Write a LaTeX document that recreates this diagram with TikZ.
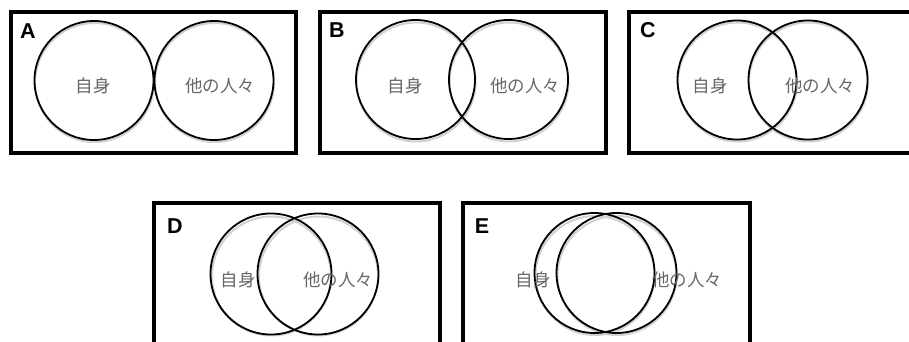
\documentclass[tikz,border=0pt]{standalone}
\usepackage{fontspec}
\setmainfont{Liberation Sans}
\newfontfamily\jpfont{Noto Sans CJK JP}
\begin{document}
\begin{tikzpicture}[x=1pt,y=-1pt,
  panel/.style={draw=black,line width=3.6pt},
  venn/.style={circle,draw=black,line width=1.8pt,minimum size=119pt,inner sep=0pt},
  vshadow/.style={circle,draw=black!18,line width=2pt,minimum size=119pt,inner sep=0pt},
  jlabel/.style={font=\jpfont\fontsize{17.5}{17.5}\selectfont,text=black!60,inner sep=0pt},
  tag/.style={font=\bfseries\fontsize{21.5}{21.5}\selectfont,inner sep=0pt}]
\useasboundingbox (0,0) rectangle (909,342);
\clip (0,0) rectangle (909,342);
% panels
\draw[panel] (11,12) rectangle (296,153);
\draw[panel] (320,12) rectangle (606,153);
\draw[panel] (629,12) rectangle (915,153);
\draw[panel] (154,203) rectangle (440,360);
\draw[panel] (463,203) rectangle (750,360);
% shadows
\foreach \p in {(94.5,82.5),(214.5,82.5),(416,82),(509,82),(737.5,82),(808.5,82),(271.5,276),(318.5,276),(595,275.5),(617,275.5)}
  \node[vshadow] at \p {};
% labels
\node[tag] (tA) at (28,31) {A};
\node[tag] (tB) at (337,30) {B};
\node[tag] (tC) at (648,30) {C};
\node[tag] (tD) at (175,226) {D};
\node[tag] (tE) at (482,226) {E};
% circles
\node[venn] (a1) at (94,80.5) {};
\node[venn] (a2) at (214,80.5) {};
\node[venn] (b1) at (415.5,79.5) {};
\node[venn] (b2) at (508.5,79.5) {};
\node[venn] (c1) at (737,80) {};
\node[venn] (c2) at (808,80) {};
\node[venn,minimum size=121pt] (d1) at (271,274) {};
\node[venn,minimum size=121pt] (d2) at (318,274) {};
\node[venn,minimum size=120pt] (e1) at (594.5,273) {};
\node[venn,minimum size=120pt] (e2) at (616.5,273) {};
% texts
\node[jlabel] (sa) at (93,86) {自身};
\node[jlabel] (oa) at (220,86) {他の人々};
\node[jlabel] (sb) at (405,86) {自身};
\node[jlabel] (ob) at (525,86) {他の人々};
\node[jlabel] (sc) at (710,86) {自身};
\node[jlabel] (oc) at (820,86) {他の人々};
\node[jlabel] (sd) at (238,280) {自身};
\node[jlabel] (od) at (338,280) {他の人々};
\node[jlabel] (se) at (533,280) {自身};
\node[jlabel] (oe) at (687,280) {他の人々};
\end{tikzpicture}
\end{document}
